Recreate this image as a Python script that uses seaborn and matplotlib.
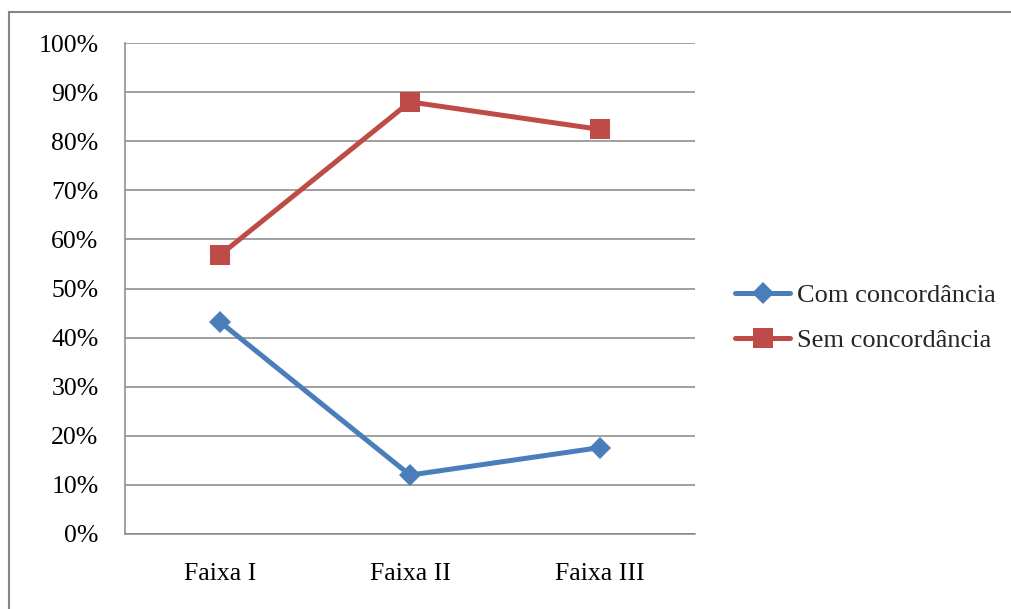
import pandas as pd
import matplotlib.pyplot as plt
import seaborn as sns
from matplotlib.patches import Rectangle
from matplotlib.ticker import PercentFormatter

faixas = ["Faixa I", "Faixa II", "Faixa III"]
com_concordancia = [43.2, 12.0, 17.6]
sem_concordancia = [56.8, 88.0, 82.4]

df = pd.DataFrame({
    "faixa": faixas * 2,
    "valor": com_concordancia + sem_concordancia,
    "serie": ["Com concordância"] * 3 + ["Sem concordância"] * 3,
})

sns.set_style("white")
plt.rcParams["font.family"] = ["Liberation Serif", "DejaVu Serif"]

fig = plt.figure(figsize=(10.11, 6.09), dpi=100)
ax = fig.add_axes([125 / 1011, 1 - 534 / 609, 570 / 1011, 491 / 609])

cores = {"Com concordância": "#4A7EBB", "Sem concordância": "#BE4B48"}
marcadores = {"Com concordância": "D", "Sem concordância": "s"}

sns.lineplot(data=df, x="faixa", y="valor", hue="serie", style="serie",
             palette=cores, markers=marcadores, dashes=False, linewidth=3.6,
             markersize=13, markeredgewidth=0, ax=ax, zorder=3)

# tamanho dos marcadores por serie
for ln in ax.lines:
    if ln.get_marker() == "D":
        ln.set_markersize(11)
    elif ln.get_marker() == "s":
        ln.set_markersize(14)

# grade
ax.set_ylim(0, 100)
ax.set_xlim(-0.5, 2.5)
ax.set_yticks(range(0, 101, 10))
ax.yaxis.set_major_formatter(PercentFormatter(decimals=0))
ax.grid(axis="y", color="#868686", linewidth=1.1)
ax.grid(axis="x", visible=False)
for s in ["top", "right"]:
    ax.spines[s].set_visible(False)
for s in ["left", "bottom"]:
    ax.spines[s].set_color("#868686")
    ax.spines[s].set_linewidth(1.1)
ax.tick_params(axis="y", length=0, pad=19, labelsize=18.5, colors="black")
ax.tick_params(axis="x", length=0, pad=21, labelsize=18.5, colors="black")
ax.set_xlabel("")
ax.set_ylabel("")

leg = ax.legend(loc="center left", bbox_to_anchor=(735 / 1011, 1 - 318 / 609),
                bbox_transform=fig.transFigure, frameon=False, fontsize=19,
                handlelength=2.1, handletextpad=0.25, labelspacing=0.8,
                borderpad=0, borderaxespad=0, title=None)
for h in leg.legend_handles:
    if h.get_marker() == "D":
        h.set_markersize(11)
    elif h.get_marker() == "s":
        h.set_markersize(14)

# moldura externa
fig.patches.append(Rectangle((9 / 1011, -0.1), 1.1, 1.1 - 12 / 609,
                             transform=fig.transFigure, fill=False,
                             edgecolor="#868686", linewidth=1.5))

plt.savefig("out.png", dpi=100)
